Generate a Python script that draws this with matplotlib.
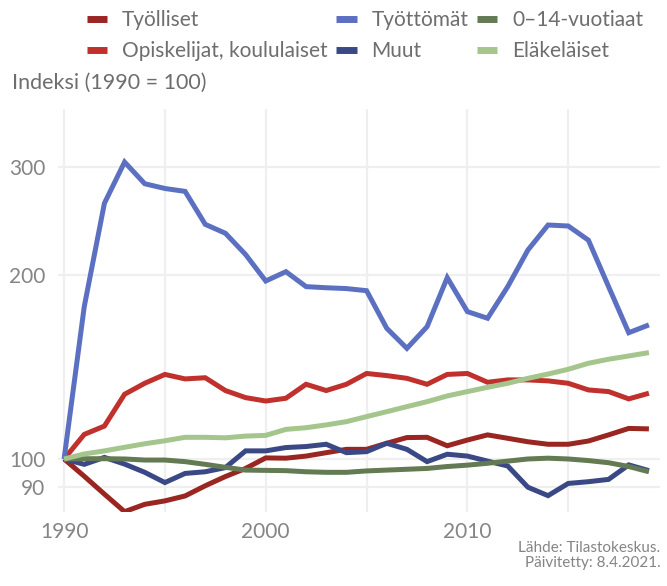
import matplotlib
matplotlib.use("Agg")
import matplotlib.pyplot as plt
from matplotlib.ticker import FixedLocator, NullFormatter

# DATA
# =======================================

years = list(range(1990, 2020))

tyolliset = [100, 93.7, 87.6, 82.0, 84.3, 85.4, 87.0, 90.4, 93.6, 96.5,
             100.4, 100.3, 101.1, 102.4, 103.7, 103.7, 106.1, 108.4, 108.5, 105.1,
             107.4, 109.5, 108.1, 106.7, 105.7, 105.7, 107.0, 109.5, 112.2, 112.0]

opiskelijat = [100, 109.7, 113.2, 127.6, 133.0, 137.5, 135.2, 135.8, 129.4, 126.0,
               124.4, 125.7, 132.5, 129.4, 132.5, 138.0, 136.9, 135.5, 132.5, 137.5,
               138.0, 133.5, 134.7, 134.7, 134.2, 133.0, 129.7, 128.9, 125.4, 128.1]

tyottomat = [100, 177.5, 262, 306, 282, 277, 274, 242, 234, 216,
             195.5, 202.5, 191.4, 190.6, 190, 188.5, 163.6, 151.7, 164.6, 198,
             174.2, 169.9, 191.4, 219.7, 241.4, 240.5, 228, 191.4, 160.9, 165.7]

muut = [100, 98.0, 100.6, 98.1, 95.1, 91.5, 94.7, 95.3, 96.8, 103.1,
        103.1, 104.4, 104.8, 105.7, 102.4, 102.8, 106.1, 103.7, 99.0, 101.8,
        101.1, 99.2, 97.4, 89.9, 87.1, 91.2, 91.8, 92.6, 97.8, 95.7]

lapset = [100, 100.1, 100.1, 100, 99.6, 99.6, 99.0, 98.0, 96.9, 95.9,
          95.8, 95.7, 95.3, 95.1, 95.1, 95.6, 95.9, 96.2, 96.5, 97.2,
          97.7, 98.4, 99.2, 100, 100.3, 100, 99.4, 98.6, 97.2, 95.3]

elakelaiset = [100, 101.9, 103.1, 104.5, 105.9, 107.1, 108.5, 108.5, 108.3, 109.0,
               109.3, 111.8, 112.5, 113.7, 115.1, 117.3, 119.5, 121.8, 124.1, 126.8,
               128.9, 131.0, 133.0, 135.5, 137.7, 140.2, 143.4, 145.6, 147.4, 149.3]

y_ticks = [90, 100, 200, 300]
x_ticks = [1990, 2000, 2010]

# PLOT
# =======================================

plt.rcParams['font.family'] = ['Lato', 'DejaVu Sans']

fig = plt.figure(figsize=(6.67, 5.86), dpi=100)
ax = fig.add_axes([0.087, 0.1263, 0.9025, 0.6877])

series = [
    ("Työlliset", tyolliset, "#9A2622"),
    ("Opiskelijat, koululaiset", opiskelijat, "#C0312D"),
    ("Työttömät", tyottomat, "#5C70C2"),
    ("Muut", muut, "#3A4885"),
    ("0–14-vuotiaat", lapset, "#637A53"),
    ("Eläkeläiset", elakelaiset, "#A4C58C"),
]

for name, vals, col in series:
    ax.plot(years, vals, color=col, linewidth=3.6, label=name,
            solid_joinstyle='miter', solid_capstyle='butt')

ax.set_yscale('log')
ax.set_xlim(1989.7, 2019.55)
ax.set_ylim(81.9, 373.7)

ax.yaxis.set_major_locator(FixedLocator(y_ticks))
ax.yaxis.set_minor_locator(FixedLocator([]))
ax.yaxis.set_minor_formatter(NullFormatter())
ax.set_yticklabels([str(t) for t in y_ticks])
ax.set_xticks(x_ticks)
ax.set_xticks([1995, 2005, 2015], minor=True)

ax.grid(True, which='both', color='#EFEFEF', linewidth=1.6)
ax.set_axisbelow(True)
for s in ax.spines.values():
    s.set_visible(False)
ax.tick_params(which='both', length=0, labelsize=15, labelcolor='#858585')
ax.tick_params(axis='y', pad=9)
ax.tick_params(axis='x', pad=7)

# Legend: columns fill top to bottom, matching the reference rows
handles, labels = ax.get_legend_handles_labels()
leg = fig.legend(handles, labels,
                 ncol=3, loc='center', bbox_to_anchor=(0.547, 0.939),
                 frameon=False, fontsize=15, handlelength=1.0,
                 handletextpad=0.7, columnspacing=0.4, labelspacing=0.55,
                 labelcolor='#6E6E6E')
for h in leg.get_lines():
    h.set_linewidth(5)

fig.text(0.018, 0.858, "Indeksi (1990 = 100)", fontsize=15.5, color='#6E6E6E',
         ha='left', va='center')

fig.text(0.99, 0.052, "Lähde: Tilastokeskus.\nPäivitetty: 8.4.2021.",
         fontsize=11, color='#858585', ha='right', va='center',
         linespacing=1.05)

fig.savefig("out.png", dpi=100)
